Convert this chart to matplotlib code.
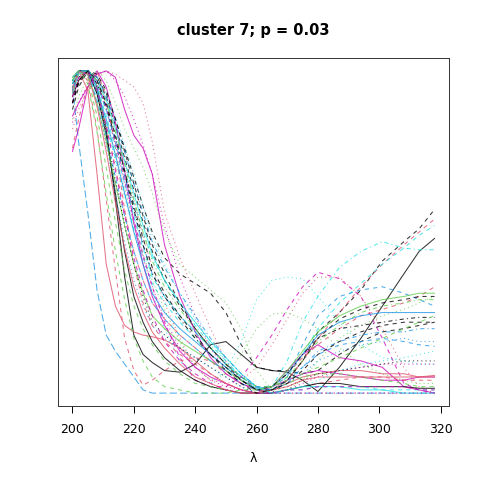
import matplotlib
matplotlib.use("Agg")
import matplotlib.pyplot as plt

# wavelength grid (nm)
wl = [200, 202, 205, 208, 211, 214, 217, 220, 223, 226, 230, 235, 240, 245,
      250, 255, 260, 265, 270, 275, 280, 287, 294, 301, 308, 313, 318]

# normalised spectra, one list per sample
s01 = [0.95, 0.78, 0.56, 0.32, 0.18, 0.13, 0.09, 0.05, 0.01, 0, 0, 0, 0, 0, 0, 0, 0, 0, 0, 0, 0, 0, 0, 0, 0, 0, 0]
s02 = [0.92, 0.97, 1.0, 0.95, 0.82, 0.6, 0.36, 0.18, 0.12, 0.095, 0.07, 0.065, 0.09, 0.15, 0.16, 0.12, 0.08, 0.07, 0.065, 0.04, 0.005, 0.08, 0.17, 0.27, 0.37, 0.44, 0.48]
s03 = [0.9, 0.97, 1.0, 0.98, 0.93, 0.85, 0.76, 0.67, 0.58, 0.5, 0.42, 0.37, 0.34, 0.31, 0.25, 0.15, 0.08, 0.07, 0.07, 0.06, 0.07, 0.12, 0.16, 0.19, 0.2, 0.21, 0.22]
s04 = [0.88, 0.95, 1.0, 0.98, 0.92, 0.83, 0.73, 0.63, 0.53, 0.44, 0.35, 0.27, 0.2, 0.14, 0.09, 0.05, 0.02, 0.0, 0.04, 0.1, 0.19, 0.25, 0.32, 0.41, 0.47, 0.51, 0.57]
s05 = [0.93, 1.0, 1.0, 0.94, 0.83, 0.7, 0.56, 0.44, 0.35, 0.28, 0.23, 0.18, 0.14, 0.1, 0.06, 0.03, 0.01, 0.01, 0.04, 0.1, 0.17, 0.25, 0.33, 0.4, 0.46, 0.5, 0.54]
s06 = [0.96, 1.0, 0.99, 0.93, 0.84, 0.73, 0.62, 0.51, 0.42, 0.34, 0.28, 0.22, 0.17, 0.12, 0.08, 0.04, 0.01, 0.01, 0.05, 0.12, 0.2, 0.28, 0.34, 0.4, 0.45, 0.49, 0.52]
s07 = [0.95, 1.0, 1.0, 0.95, 0.88, 0.79, 0.69, 0.59, 0.5, 0.42, 0.35, 0.28, 0.21, 0.15, 0.1, 0.05, 0.01, 0.02, 0.1, 0.22, 0.3, 0.39, 0.44, 0.47, 0.45, 0.445, 0.445]
s08 = [0.97, 1.0, 0.99, 0.92, 0.83, 0.72, 0.61, 0.5, 0.4, 0.31, 0.2, 0.1, 0.05, 0.03, 0.07, 0.16, 0.29, 0.35, 0.36, 0.355, 0.3, 0.22, 0.15, 0.11, 0.1, 0.09, 0.09]
s09 = [0.9, 0.98, 1.0, 0.97, 0.89, 0.78, 0.66, 0.54, 0.43, 0.33, 0.22, 0.11, 0.04, 0.02, 0.02, 0.05, 0.11, 0.18, 0.26, 0.33, 0.375, 0.355, 0.3, 0.17, 0.03, 0.01, 0.0]
s10 = [0.92, 1.0, 1.0, 0.97, 0.92, 0.83, 0.72, 0.6, 0.49, 0.39, 0.28, 0.17, 0.08, 0.04, 0.03, 0.04, 0.08, 0.15, 0.23, 0.31, 0.36, 0.36, 0.3, 0.2, 0.08, 0.02, 0.0]
s11 = [0.85, 0.92, 0.98, 1.0, 0.97, 0.9, 0.82, 0.76, 0.7, 0.62, 0.5, 0.4, 0.36, 0.32, 0.28, 0.2, 0.07, 0.01, 0.01, 0.04, 0.1, 0.17, 0.21, 0.24, 0.26, 0.28, 0.3]
s12 = [0.95, 1.0, 0.99, 0.93, 0.84, 0.74, 0.63, 0.52, 0.43, 0.35, 0.26, 0.16, 0.08, 0.04, 0.06, 0.12, 0.2, 0.245, 0.25, 0.23, 0.2, 0.14, 0.09, 0.06, 0.04, 0.03, 0.03]
s13 = [0.86, 0.9, 0.95, 0.99, 1.0, 0.98, 0.88, 0.8, 0.76, 0.68, 0.46, 0.3, 0.19, 0.11, 0.06, 0.03, 0.01, 0.02, 0.04, 0.06, 0.07, 0.06, 0.05, 0.04, 0.04, 0.05, 0.05]
s14 = [0.82, 0.88, 0.94, 0.98, 1.0, 0.99, 0.97, 0.95, 0.9, 0.78, 0.56, 0.42, 0.31, 0.2, 0.1, 0.04, 0.01, 0.0, 0.0, 0.0, 0.0, 0.0, 0.0, 0.0, 0.0, 0.0, 0.0]
s15 = [0.84, 0.9, 0.96, 0.99, 1.0, 0.97, 0.92, 0.85, 0.77, 0.68, 0.52, 0.36, 0.24, 0.14, 0.07, 0.03, 0.01, 0.0, 0.01, 0.03, 0.05, 0.07, 0.08, 0.09, 0.09, 0.09, 0.09]
s16 = [0.75, 0.82, 0.95, 1.0, 0.95, 0.84, 0.69, 0.53, 0.4, 0.3, 0.21, 0.13, 0.08, 0.05, 0.03, 0.01, 0.0, 0.02, 0.07, 0.12, 0.15, 0.11, 0.1, 0.08, 0.02, 0.01, 0.0]
s17 = [0.76, 0.85, 0.96, 1.0, 0.92, 0.76, 0.57, 0.4, 0.28, 0.21, 0.16, 0.12, 0.09, 0.06, 0.03, 0.01, 0.0, 0.02, 0.06, 0.11, 0.15, 0.2, 0.24, 0.26, 0.28, 0.3, 0.33]
s18 = [0.95, 1.0, 0.94, 0.68, 0.4, 0.27, 0.21, 0.19, 0.18, 0.175, 0.165, 0.14, 0.1, 0.06, 0.03, 0.01, 0.0, 0.01, 0.03, 0.05, 0.06, 0.07, 0.07, 0.06, 0.06, 0.05, 0.05]
s19 = [0.93, 1.0, 0.97, 0.82, 0.6, 0.38, 0.17, 0.07, 0.025, 0.04, 0.07, 0.1, 0.11, 0.1, 0.07, 0.04, 0.02, 0.0, 0.01, 0.02, 0.03, 0.04, 0.05, 0.05, 0.04, 0.04, 0.04]
s20 = [0.97, 1.0, 1.0, 0.93, 0.8, 0.62, 0.44, 0.3, 0.22, 0.16, 0.11, 0.07, 0.04, 0.02, 0.01, 0.0, 0.0, 0.0, 0.01, 0.02, 0.03, 0.03, 0.02, 0.02, 0.02, 0.015, 0.015]
s21 = [0.98, 1.0, 0.99, 0.94, 0.85, 0.74, 0.62, 0.5, 0.4, 0.31, 0.25, 0.2, 0.16, 0.12, 0.08, 0.04, 0.015, 0.02, 0.06, 0.12, 0.18, 0.22, 0.24, 0.25, 0.25, 0.25, 0.25]
s22 = [0.96, 1.0, 1.0, 0.96, 0.88, 0.78, 0.67, 0.56, 0.46, 0.37, 0.3, 0.24, 0.19, 0.14, 0.09, 0.05, 0.02, 0.02, 0.05, 0.15, 0.24, 0.3, 0.32, 0.33, 0.31, 0.29, 0.27]
s23 = [0.93, 0.99, 1.0, 0.97, 0.91, 0.82, 0.72, 0.62, 0.52, 0.43, 0.35, 0.28, 0.22, 0.16, 0.11, 0.06, 0.02, 0.0, 0.01, 0.02, 0.02, 0.02, 0.01, 0.01, 0.0, 0.0, 0.0]
s24 = [0.98, 1.0, 0.99, 0.9, 0.78, 0.65, 0.52, 0.4, 0.31, 0.24, 0.2, 0.16, 0.13, 0.1, 0.07, 0.04, 0.01, 0.02, 0.07, 0.13, 0.19, 0.24, 0.27, 0.29, 0.3, 0.31, 0.31]
s25 = [0.96, 1.0, 0.98, 0.86, 0.7, 0.53, 0.38, 0.27, 0.2, 0.15, 0.1, 0.06, 0.03, 0.02, 0.01, 0.0, 0.0, 0.01, 0.03, 0.05, 0.06, 0.06, 0.05, 0.04, 0.03, 0.02, 0.02]
s26 = [0.92, 0.98, 1.0, 0.93, 0.81, 0.66, 0.52, 0.4, 0.3, 0.22, 0.18, 0.14, 0.11, 0.08, 0.05, 0.02, 0.0, 0.01, 0.02, 0.04, 0.06, 0.07, 0.08, 0.09, 0.1, 0.1, 0.1]
s27 = [0.95, 1.0, 1.0, 0.96, 0.89, 0.79, 0.68, 0.57, 0.46, 0.37, 0.3, 0.23, 0.17, 0.12, 0.08, 0.04, 0.01, 0.02, 0.06, 0.12, 0.17, 0.2, 0.21, 0.22, 0.23, 0.235, 0.235]
s28 = [0.97, 1.0, 0.99, 0.9, 0.77, 0.62, 0.47, 0.35, 0.27, 0.21, 0.17, 0.14, 0.11, 0.08, 0.05, 0.02, 0.0, 0.01, 0.03, 0.06, 0.1, 0.13, 0.15, 0.16, 0.17, 0.16, 0.16]
s29 = [0.96, 1.0, 0.99, 0.91, 0.8, 0.67, 0.55, 0.44, 0.35, 0.28, 0.23, 0.18, 0.14, 0.1, 0.07, 0.03, 0.01, 0.01, 0.04, 0.08, 0.12, 0.15, 0.16, 0.17, 0.16, 0.15, 0.145]
s30 = [0.97, 1.0, 1.0, 0.95, 0.86, 0.76, 0.65, 0.55, 0.45, 0.36, 0.3, 0.24, 0.19, 0.14, 0.09, 0.05, 0.02, 0.0, 0.01, 0.01, 0.02, 0.02, 0.02, 0.01, 0.01, 0.01, 0.01]
s31 = [0.92, 0.98, 1.0, 0.94, 0.83, 0.69, 0.55, 0.42, 0.32, 0.24, 0.16, 0.1, 0.06, 0.03, 0.01, 0.0, 0.0, 0.0, 0.01, 0.01, 0.02, 0.02, 0.02, 0.02, 0.02, 0.01, 0.01]
s32 = [0.93, 0.99, 1.0, 0.97, 0.9, 0.81, 0.71, 0.6, 0.5, 0.41, 0.33, 0.26, 0.2, 0.14, 0.09, 0.05, 0.02, 0.02, 0.05, 0.1, 0.16, 0.21, 0.25, 0.27, 0.28, 0.29, 0.29]
s33 = [0.94, 1.0, 0.99, 0.89, 0.75, 0.59, 0.45, 0.33, 0.25, 0.19, 0.14, 0.09, 0.05, 0.03, 0.01, 0.0, 0.0, 0.01, 0.02, 0.04, 0.05, 0.05, 0.05, 0.05, 0.05, 0.05, 0.055]
s34 = [0.9, 0.97, 1.0, 0.96, 0.88, 0.77, 0.65, 0.53, 0.42, 0.33, 0.23, 0.14, 0.08, 0.04, 0.02, 0.01, 0.0, 0.0, 0.0, 0.0, 0.0, 0.0, 0.0, 0.0, 0.0, 0.0, 0.0]
s35 = [0.9, 0.96, 1.0, 0.99, 0.94, 0.85, 0.75, 0.65, 0.55, 0.46, 0.37, 0.28, 0.2, 0.14, 0.09, 0.04, 0.01, 0.01, 0.04, 0.1, 0.17, 0.23, 0.26, 0.28, 0.29, 0.3, 0.3]
s36 = [0.95, 1.0, 1.0, 0.98, 0.93, 0.86, 0.77, 0.68, 0.58, 0.49, 0.4, 0.31, 0.23, 0.16, 0.1, 0.05, 0.02, 0.0, 0.01, 0.02, 0.04, 0.07, 0.09, 0.1, 0.11, 0.12, 0.13]
s37 = [0.94, 1.0, 1.0, 0.98, 0.92, 0.84, 0.75, 0.65, 0.56, 0.47, 0.39, 0.31, 0.24, 0.17, 0.11, 0.06, 0.02, 0.01, 0.03, 0.08, 0.13, 0.16, 0.18, 0.19, 0.19, 0.2, 0.2]
s38 = [0.97, 1.0, 0.96, 0.81, 0.62, 0.44, 0.29, 0.17, 0.1, 0.05, 0.02, 0.01, 0.0, 0.0, 0.0, 0.01, 0.01, 0.02, 0.04, 0.06, 0.08, 0.11, 0.14, 0.17, 0.2, 0.22, 0.24]
s39 = [0.9, 0.97, 1.0, 0.97, 0.9, 0.8, 0.69, 0.58, 0.48, 0.39, 0.31, 0.24, 0.18, 0.12, 0.07, 0.03, 0.0, 0.01, 0.03, 0.07, 0.12, 0.16, 0.19, 0.21, 0.22, 0.22, 0.22]

curves = [s01, s02, s03, s04, s05, s06, s07, s08, s09, s10, s11, s12, s13,
          s14, s15, s16, s17, s18, s19, s20, s21, s22, s23, s24, s25, s26,
          s27, s28, s29, s30, s31, s32, s33, s34, s35, s36, s37, s38, s39]

# R palette colours and lty patterns
pal = {"k": "#000000", "r": "#DF536B", "g": "#61D04F",
       "b": "#2297E6", "c": "#28E2E5", "m": "#CD0BBC"}
lty = {"solid": "-", "dashed": (0, (4, 4)), "dotted": (0, (1, 3)),
       "dotdash": (0, (1, 3, 4, 3)), "longdash": (0, (7, 3))}

styles = [("b", "longdash"), ("k", "solid"), ("k", "dashed"), ("k", "dashed"),
          ("r", "dashed"), ("c", "dashed"), ("c", "dotdash"), ("c", "dotted"),
          ("m", "dashed"), ("r", "dotted"), ("g", "dotted"), ("g", "dotted"),
          ("m", "solid"), ("r", "dotted"), ("m", "dotted"), ("m", "solid"),
          ("r", "dashed"), ("r", "solid"), ("r", "dashed"), ("k", "solid"),
          ("b", "solid"), ("b", "dashed"), ("c", "solid"), ("g", "solid"),
          ("g", "dashed"), ("k", "dotted"), ("k", "dotdash"), ("b", "dotted"),
          ("b", "dashed"), ("c", "dashed"), ("m", "dashed"), ("g", "dotdash"),
          ("r", "solid"), ("m", "dotted"), ("k", "dashed"), ("c", "dotted"),
          ("b", "dotdash"), ("g", "dashed"), ("k", "dashed")]

fig = plt.figure(figsize=(4.8, 4.8), dpi=100)
ax = fig.add_axes([58 / 480, 1 - 406 / 480, 391 / 480, 348 / 480])

for y, (c, l) in zip(curves, styles):
    ax.plot(wl, y, color=pal[c], ls=lty[l], lw=0.75, alpha=0.8)

ax.set_xlim(195.28, 322.72)
ax.set_ylim(-0.04, 1.04)
ax.set_xticks([200, 220, 240, 260, 280, 300, 320])
ax.set_yticks([])
ax.tick_params(axis="x", length=5, width=0.7, pad=7, labelsize=9)
for sp in ax.spines.values():
    sp.set_linewidth(0.7)
    sp.set_color("#333333")

ax.set_xlabel("λ", fontsize=9, labelpad=12)
fig.text(253.5 / 480, 1 - 30 / 480, "cluster 7; p = 0.03", ha="center",
         va="center", fontsize=10.5, fontweight="bold")

fig.savefig("out.png", dpi=100)
